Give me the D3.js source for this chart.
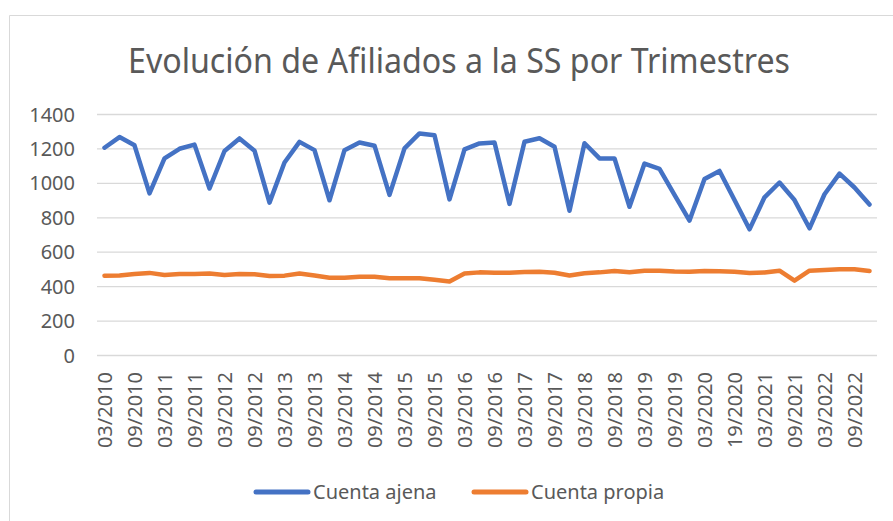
<!DOCTYPE html>
<html>
<head>
<meta charset="utf-8">
<script src="https://cdn.jsdelivr.net/npm/d3@7"></script>
<style>
body { margin: 0; background: #fff; }
text { font-family: "Noto Sans", sans-serif; fill: #595959; }
</style>
</head>
<body>
<svg id="graph"></svg>
<script>
var width = 893, height = 521;

var years = ["2010","2011","2012","2013","2014","2015","2016","2017","2018","2019","2020","2021","2022"];
var months = ["03","06","09","12"];
var quarters = [];
years.forEach(function(y){ months.forEach(function(m){ quarters.push(m + "/" + y); }); });

// every other quarter gets a label (the original has the "19/2020" typo)
var tickLabels = ["03/2010","09/2010","03/2011","09/2011","03/2012","09/2012","03/2013","09/2013",
	"03/2014","09/2014","03/2015","09/2015","03/2016","09/2016","03/2017","09/2017",
	"03/2018","09/2018","03/2019","09/2019","03/2020","19/2020","03/2021","09/2021",
	"03/2022","09/2022"];

var ajena = [1204,1266,1218,939, 1142,1198,1222,967, 1185,1258,1187,885,
	1118,1238,1190,899, 1190,1234,1216,930, 1200,1287,1277,904,
	1195,1229,1234,878, 1239,1259,1210,838, 1230,1142,1142,861,
	1112,1081,930,781, 1022,1069,900,730, 916,1002,900,736,
	934,1054,973,874];

var propia = [461,462,470,477, 465,470,471,473, 465,470,469,459,
	461,474,462,449, 449,455,455,446, 446,446,437,427,
	474,480,478,478, 482,484,478,462, 475,480,488,481,
	490,490,485,484, 488,486,484,477, 479,490,432,490,
	494,498,498,488];

var yTicks = [0,200,400,600,800,1000,1200,1400];

var svg = d3.select("#graph").attr("width", width).attr("height", height);

// chart border
svg.append("path")
	.attr("d", "M9.5," + height + "V15.5H" + width)
	.style("fill", "none")
	.style("stroke", "#D9D9D9")
	.style("stroke-width", 1);

var xScale = d3.scalePoint().domain(quarters).range([97, 877]).padding(0.5);
var yScale = d3.scaleLinear().domain([0, 1400]).range([355, 114]);

var plot = svg.append("g");

// gridlines + y labels
var yAxis = d3.axisLeft(yScale).tickValues(yTicks).tickFormat(d3.format("d"))
	.tickSize(-(877 - 97)).tickPadding(22);
var gy = plot.append("g").attr("transform", "translate(97,0)").call(yAxis);
gy.select(".domain").remove();
gy.selectAll("line").style("stroke", "#D9D9D9").style("stroke-width", 1.3);
gy.selectAll("text").style("font-size", "20px").style("fill", "#595959")
	.style("font-family", "'Noto Sans', sans-serif").attr("dy", "0.35em");

// x labels
var labelled = quarters.filter(function(d, i){ return i % 2 == 0; });
var xAxis = d3.axisBottom(xScale).tickValues(labelled)
	.tickFormat(function(d, i){ return tickLabels[i]; }).tickSize(0);
var gx = plot.append("g").attr("transform", "translate(0,355)").call(xAxis);
gx.select(".domain").remove();
gx.selectAll("text")
	.attr("transform", "rotate(-90)")
	.attr("x", -17).attr("y", 0).attr("dy", "0.35em")
	.style("text-anchor", "end")
	.style("font-size", "20px").style("fill", "#595959")
	.style("font-family", "'Noto Sans', sans-serif");

var pathGenerator = function(vals){
	return d3.line()
		.x(function(d, i){ return xScale(quarters[i]); })
		.y(function(d){ return yScale(d); })(vals);
};

plot.append("path").datum(ajena)
	.attr("d", pathGenerator)
	.style("stroke", "#4472C4").style("stroke-width", 4.5)
	.style("stroke-linejoin", "round").style("stroke-linecap", "round")
	.style("fill", "none");

plot.append("path").datum(propia)
	.attr("d", pathGenerator)
	.style("stroke", "#ED7D31").style("stroke-width", 4.5)
	.style("stroke-linejoin", "round").style("stroke-linecap", "round")
	.style("fill", "none");

// title
svg.append("text")
	.attr("x", 459).attr("y", 73)
	.attr("text-anchor", "middle")
	.attr("textLength", 662).attr("lengthAdjust", "spacingAndGlyphs")
	.style("font-size", "35px")
	.text("Evolución de Afiliados a la SS por Trimestres");

// legend
var legend = [
	{name: "Cuenta ajena", color: "#4472C4", x: 256},
	{name: "Cuenta propia", color: "#ED7D31", x: 474}
];
var lg = svg.append("g").selectAll("g").data(legend).enter().append("g");
lg.append("line")
	.attr("x1", function(d){ return d.x; }).attr("x2", function(d){ return d.x + 52; })
	.attr("y1", 492).attr("y2", 492)
	.style("stroke", function(d){ return d.color; })
	.style("stroke-width", 5).style("stroke-linecap", "round");
lg.append("text")
	.attr("x", function(d){ return d.x + 57; }).attr("y", 499)
	.style("font-size", "20px")
	.text(function(d){ return d.name; });
</script>
</body>
</html>
